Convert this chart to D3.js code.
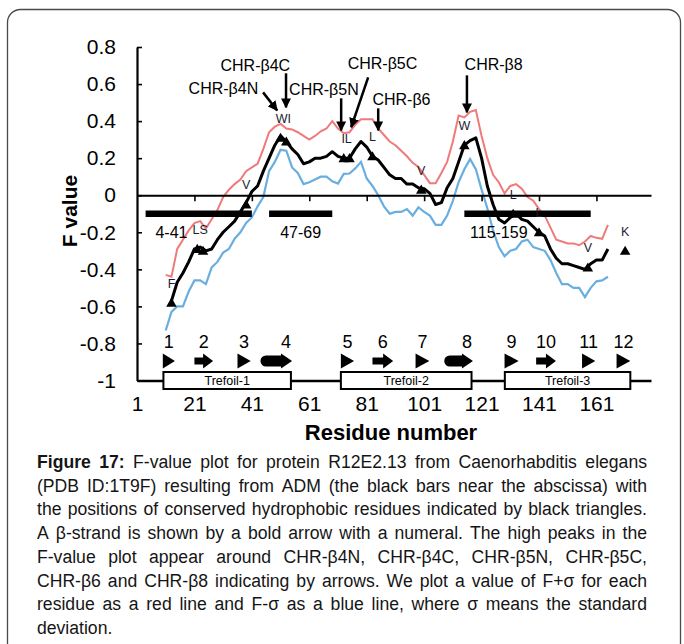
<!DOCTYPE html>
<html>
<head>
<meta charset="utf-8">
<script src="https://d3js.org/d3.v7.min.js"></script>
<style>
body { margin: 0; background: #fff; }
svg { display: block; font-family: "Liberation Sans", Arial, sans-serif; }
</style>
</head>
<body>
<div id="svg_div"><svg></svg></div>
<script>
var residues = [11, 13, 15, 17, 19, 21, 23, 25, 27, 29, 31, 33, 35, 37, 39, 41, 43, 45, 47, 49,
	51, 53, 55, 57, 59, 61, 63, 65, 67, 69, 71, 73, 75, 77, 79, 81, 83, 85, 87, 89,
	91, 93, 95, 97, 99, 101, 103, 105, 107, 109, 111, 113, 115, 117, 119, 121, 123, 125, 127, 129,
	131, 133, 135, 137, 139, 141, 143, 145, 147, 149, 151, 153, 155, 157, 159, 161, 163, 165];

// F + sigma (red)
var fPlus = [-0.43, -0.44, -0.29, -0.24, -0.19, -0.15, -0.14, -0.18, -0.13, -0.08, -0.01, 0.03, 0.06, 0.085, 0.13, 0.15, 0.17, 0.25, 0.34, 0.37,
	0.385, 0.36, 0.355, 0.34, 0.32, 0.30, 0.32, 0.345, 0.36, 0.40, 0.36, 0.335, 0.34, 0.38, 0.41, 0.41, 0.41, 0.36, 0.325, 0.29,
	0.27, 0.24, 0.21, 0.175, 0.153, 0.11, 0.065, 0.065, 0.12, 0.18, 0.29, 0.43, 0.42, 0.45, 0.46, 0.32, 0.20, 0.11, 0.07, 0.01,
	0.05, 0.06, 0.035, -0.01, -0.03, -0.075, -0.11, -0.175, -0.24, -0.25, -0.26, -0.26, -0.27, -0.25, -0.22, -0.23, -0.235, -0.16];

// F value (black)
var fValue = [null, -0.57, -0.47, -0.42, -0.36, -0.29, -0.28, -0.30, -0.29, -0.24, -0.20, -0.17, -0.14, -0.09, -0.04, 0.02, 0.05, 0.13, 0.20, 0.27,
	0.32, 0.29, 0.25, 0.22, 0.17, 0.18, 0.20, 0.20, 0.21, 0.235, 0.21, 0.20, 0.20, 0.25, 0.29, 0.26, 0.21, 0.19, 0.15, 0.11,
	0.09, 0.09, 0.06, 0.06, 0.04, 0.035, 0.01, -0.05, -0.04, 0.04, 0.09, 0.18, 0.27, 0.295, 0.31, 0.20, 0.05, -0.05, -0.13, -0.15,
	-0.12, -0.10, -0.13, -0.14, -0.17, -0.20, -0.22, -0.29, -0.34, -0.37, -0.37, -0.38, -0.39, -0.40, -0.37, -0.35, -0.35, -0.29];

// F - sigma (blue)
var fMinus = [-0.73, -0.63, -0.60, -0.60, -0.52, -0.46, -0.46, -0.48, -0.39, -0.36, -0.31, -0.29, -0.235, -0.20, -0.15, -0.12, -0.06, -0.01, 0.13, 0.18,
	0.245, 0.24, 0.15, 0.12, 0.06, 0.07, 0.085, 0.10, 0.10, 0.075, 0.063, 0.115, 0.117, 0.145, 0.18, 0.09, 0.05, 0.0, -0.06, -0.10,
	-0.09, -0.09, -0.075, -0.11, -0.065, -0.09, -0.11, -0.16, -0.16, -0.11, -0.03, 0.07, 0.14, 0.195, 0.14, 0.03, -0.07, -0.19, -0.28, -0.33,
	-0.30, -0.29, -0.25, -0.24, -0.28, -0.29, -0.30, -0.35, -0.42, -0.48, -0.48, -0.50, -0.50, -0.55, -0.50, -0.465, -0.46, -0.44];

// conserved hydrophobic residues (black triangles)
var hydroRes = [13, 22, 24, 39, 51, 53, 73, 75, 83, 100, 115, 132, 141, 158, 171];
var hydroF = [-0.58, -0.29, -0.30, -0.05, 0.31, 0.29, 0.20, 0.20, 0.21, 0.03, 0.27, -0.10, -0.20, -0.39, -0.30];

// residue letters written above the triangles (neighbouring pairs share one label)
var aaLabel = ["F", "LS", "V", "WI", "IL", "L", "V", "W", "L", "L", "V", "K"];
var aaRes = [13, 23, 39, 52, 74, 83, 100, 115, 132, 141, 158, 171];
var aaF = [-0.58, -0.29, -0.05, 0.31, 0.20, 0.21, 0.03, 0.27, -0.10, -0.20, -0.39, -0.30];

// ADM regions (black bars)
var admStart = [4, 47, 115];
var admEnd = [41, 69, 159];
var admLabelRes = [13, 58, 127];
var admF = -0.1;

// beta strands
var strandNo = ["1", "2", "3", "4", "5", "6", "7", "8", "9", "10", "11", "12"];
var strandStart = [10, 21, 36, 44, 72, 83, 98, 108, 129, 140, 156, 168];
var strandEnd = [14.2, 27.5, 40.6, 55, 76.6, 90.2, 102.8, 118, 133.9, 146.9, 160.6, 172.8];
var strandKind = ["tri", "arrow", "tri", "long", "tri", "arrow", "tri", "long", "tri", "arrow", "tri", "tri"];

// trefoil domains
var trefoilName = ["Trefoil-1", "Trefoil-2", "Trefoil-3"];
var trefoilStart = [10.2, 72, 129.1];
var trefoilEnd = [54.6, 117.5, 172.8];

// CHR peak annotations
var chrName = ["CHR-β4N", "CHR-β4C", "CHR-β5N", "CHR-β5C", "CHR-β6", "CHR-β8"];
var chrTextRes = [31.1, 42.2, 66.1, 86.5, 93.1, 125.2];
var chrTextF = [0.544, 0.668, 0.539, 0.679, 0.485, 0.674];
var chrTailRes = [44.9, 52.9, 72.1, 81.5, 85, 115.9];
var chrTailF = [0.555, 0.658, 0.523, 0.636, 0.469, 0.647];
var chrTipRes = [49.8, 52.9, 72.1, 75.6, 85, 115.9];
var chrTipF = [0.458, 0.474, 0.35, 0.367, 0.35, 0.447];

var yTicks = [-1, -0.8, -0.6, -0.4, -0.2, 0, 0.2, 0.4, 0.6, 0.8];
var xTicks = [1, 21, 41, 61, 81, 101, 121, 141, 161];

var captionLines = [
	"Figure 17: F-value plot for protein R12E2.13 from Caenorhabditis elegans",
	"(PDB ID:1T9F) resulting from ADM (the black bars near the abscissa) with",
	"the positions of conserved hydrophobic residues indicated by black triangles.",
	"A β-strand is shown by a bold arrow with a numeral. The high peaks in the",
	"F-value plot appear around CHR-β4N, CHR-β4C, CHR-β5N, CHR-β5C,",
	"CHR-β6 and CHR-β8 indicating by arrows. We plot a value of F+σ for each",
	"residue as a red line and F-σ as a blue line, where σ means the standard",
	"deviation."
];

var w = 684, h = 644;
var svg = d3.select("#svg_div").select("svg")
			.attr("width", w)
			.attr("height", h);

var xScale = d3.scaleLinear().domain([1, 180]).range([137, 651]);
var yScale = d3.scaleLinear().domain([-1, 0.8]).range([380.5, 47]);

// panel border
svg.append("rect")
   .attr("x", 7.5).attr("y", 9.5)
   .attr("width", 673).attr("height", 720)
   .attr("rx", 13)
   .attr("fill", "none")
   .attr("stroke", "#4a4a4a")
   .attr("stroke-width", 1.3);

// curves
function curve(vals) {
	return d3.line()
			 .defined(function(d, i) { return vals[i] !== null; })
			 .x(function(d, i) { return xScale(residues[i]); })
			 .y(function(d, i) { return yScale(vals[i]); })(residues);
}
svg.append("path").attr("d", curve(fPlus))
   .attr("fill", "none").attr("stroke", "#f07a7a").attr("stroke-width", 2);
svg.append("path").attr("d", curve(fMinus))
   .attr("fill", "none").attr("stroke", "#6aaee0").attr("stroke-width", 2.2);
svg.append("path").attr("d", curve(fValue))
   .attr("fill", "none").attr("stroke", "#000").attr("stroke-width", 3).attr("stroke-linejoin", "round");

// y axis
var yAxis = d3.axisLeft(yScale)
			  .tickValues(yTicks)
			  .tickSize(-5)
			  .tickSizeOuter(0)
			  .tickPadding(21)
			  .tickFormat(function(d) { return d === 0 ? "0" : String(+d.toFixed(1)); });
var gy = svg.append("g")
			.attr("transform", "translate(" + xScale(1) + ",0)")
			.call(yAxis);
gy.select(".domain").attr("stroke-width", 2.2);
gy.selectAll(".tick line").attr("stroke-width", 1.6);
gy.selectAll("text").attr("font-size", "21px").attr("font-family", "Liberation Sans, Arial, sans-serif").attr("fill", "#000");

// zero line with ticks
var xZero = d3.axisBottom(xScale)
			  .tickValues(xTicks.slice(1))
			  .tickSize(6)
			  .tickSizeOuter(0)
			  .tickFormat("");
var gz = svg.append("g")
			.attr("transform", "translate(0," + yScale(0) + ")")
			.call(xZero);
gz.select(".domain").attr("stroke-width", 2);
gz.selectAll(".tick line").attr("stroke-width", 1.6);

// bottom line with residue labels
var xAxis = d3.axisBottom(xScale)
			  .tickValues(xTicks)
			  .tickSize(0)
			  .tickSizeOuter(0)
			  .tickPadding(16);
var gx = svg.append("g")
			.attr("transform", "translate(0," + yScale(-1) + ")")
			.call(xAxis);
gx.select(".domain").attr("stroke-width", 2.6);
gx.selectAll("text").attr("font-size", "21px").attr("font-family", "Liberation Sans, Arial, sans-serif").attr("fill", "#000");

// axis titles
svg.append("text")
   .attr("transform", "translate(77,211) rotate(-90)")
   .attr("text-anchor", "middle")
   .attr("font-size", "21px")
   .attr("font-weight", "bold")
   .text("F value");
svg.append("text")
   .attr("x", 391).attr("y", 440)
   .attr("text-anchor", "middle")
   .attr("font-size", "22px")
   .attr("font-weight", "bold")
   .text("Residue number");

// ADM bars
svg.selectAll(".adm")
   .data(admStart)
   .enter()
   .append("line")
   .attr("class", "adm")
   .attr("x1", function(d) { return xScale(d); })
   .attr("x2", function(d, i) { return xScale(admEnd[i]); })
   .attr("y1", yScale(admF)).attr("y2", yScale(admF))
   .attr("stroke", "#000")
   .attr("stroke-width", 6.5);
svg.selectAll(".admLabel")
   .data(admStart)
   .enter()
   .append("text")
   .attr("class", "admLabel")
   .attr("x", function(d, i) { return xScale(admLabelRes[i]); })
   .attr("y", yScale(admF) + 24)
   .attr("text-anchor", "middle")
   .attr("font-size", "16px")
   .text(function(d, i) { return admStart[i] + "-" + admEnd[i]; });

// hydrophobic residue triangles
svg.selectAll(".hydro")
   .data(hydroRes)
   .enter()
   .append("path")
   .attr("class", "hydro")
   .attr("d", d3.symbol().type(d3.symbolTriangle).size(48))
   .attr("transform", function(d, i) {
		return "translate(" + xScale(d) + "," + (yScale(hydroF[i]) + 1) + ")";
   })
   .attr("fill", "#000");
svg.selectAll(".aa")
   .data(aaLabel)
   .enter()
   .append("text")
   .attr("class", "aa")
   .attr("x", function(d, i) { return xScale(aaRes[i]); })
   .attr("y", function(d, i) { return yScale(aaF[i]) - 15; })
   .attr("text-anchor", "middle")
   .attr("font-size", "12.5px")
   .attr("fill", "#1c1c30")
   .text(function(d) { return d; });

// CHR arrows
var defs = svg.append("defs");
defs.append("marker")
	.attr("id", "head")
	.attr("viewBox", "0 0 10 10")
	.attr("refX", 9).attr("refY", 5)
	.attr("markerWidth", 4).attr("markerHeight", 4)
	.attr("markerUnits", "strokeWidth")
	.attr("orient", "auto")
	.append("path")
	.attr("d", "M0,0L10,5L0,10Z")
	.attr("fill", "#000");
svg.selectAll(".chrArrow")
   .data(chrName)
   .enter()
   .append("line")
   .attr("class", "chrArrow")
   .attr("x1", function(d, i) { return xScale(chrTailRes[i]); })
   .attr("y1", function(d, i) { return yScale(chrTailF[i]); })
   .attr("x2", function(d, i) { return xScale(chrTipRes[i]); })
   .attr("y2", function(d, i) { return yScale(chrTipF[i]); })
   .attr("stroke", "#000")
   .attr("stroke-width", 2.5)
   .attr("marker-end", "url(#head)");
svg.selectAll(".chrText")
   .data(chrName)
   .enter()
   .append("text")
   .attr("class", "chrText")
   .attr("x", function(d, i) { return xScale(chrTextRes[i]); })
   .attr("y", function(d, i) { return yScale(chrTextF[i]); })
   .attr("text-anchor", "middle")
   .attr("font-size", "16px")
   .text(function(d) { return d; });

// strands
var strandY = 361;
function strandPath(i) {
	var x0 = xScale(strandStart[i]), x1 = xScale(strandEnd[i]);
	var c = strandY;
	if (strandKind[i] === "tri")
		return "M" + x0 + "," + (c - 7.5) + "L" + x1 + "," + c + "L" + x0 + "," + (c + 7.5) + "Z";
	if (strandKind[i] === "arrow") {
		var hx = x1 - 10;
		return "M" + x0 + "," + (c - 3.5) + "L" + hx + "," + (c - 3.5) + "L" + hx + "," + (c - 7.5) +
			   "L" + x1 + "," + c + "L" + hx + "," + (c + 7.5) + "L" + hx + "," + (c + 3.5) +
			   "L" + x0 + "," + (c + 3.5) + "Z";
	}
	var hx2 = x1 - 11;
	return "M" + (x0 + 5.5) + "," + (c - 5.5) + "L" + hx2 + "," + (c - 5.5) + "L" + hx2 + "," + (c - 7.5) +
		   "L" + x1 + "," + c + "L" + hx2 + "," + (c + 7.5) + "L" + hx2 + "," + (c + 5.5) +
		   "L" + (x0 + 5.5) + "," + (c + 5.5) + "A5.5,5.5 0 0 1 " + (x0 + 5.5) + "," + (c - 5.5) + "Z";
}
svg.selectAll(".strand")
   .data(strandNo)
   .enter()
   .append("path")
   .attr("class", "strand")
   .attr("d", function(d, i) { return strandPath(i); })
   .attr("fill", "#000");
svg.selectAll(".strandNo")
   .data(strandNo)
   .enter()
   .append("text")
   .attr("class", "strandNo")
   .attr("x", function(d, i) {
		if (strandKind[i] === "long") return xScale(strandEnd[i]) - 6;
		return (xScale(strandStart[i]) + xScale(strandEnd[i])) / 2;
   })
   .attr("y", 348)
   .attr("text-anchor", "middle")
   .attr("font-size", "18px")
   .text(function(d) { return d; });

// trefoil boxes
svg.selectAll(".trefoil")
   .data(trefoilName)
   .enter()
   .append("rect")
   .attr("class", "trefoil")
   .attr("x", function(d, i) { return xScale(trefoilStart[i]); })
   .attr("width", function(d, i) { return xScale(trefoilEnd[i]) - xScale(trefoilStart[i]); })
   .attr("y", 372).attr("height", 17)
   .attr("fill", "#fff")
   .attr("stroke", "#000")
   .attr("stroke-width", 2);
svg.selectAll(".trefoilText")
   .data(trefoilName)
   .enter()
   .append("text")
   .attr("class", "trefoilText")
   .attr("x", function(d, i) { return (xScale(trefoilStart[i]) + xScale(trefoilEnd[i])) / 2; })
   .attr("y", 385)
   .attr("text-anchor", "middle")
   .attr("font-size", "12.5px")
   .text(function(d) { return d; });

// caption, justified word by word
var capX0 = 37, capX1 = 647, capY0 = 468, capLH = 23.7;
captionLines.forEach(function(line, li) {
	var words = line.split(" ");
	var g = svg.append("g");
	var nodes = words.map(function(word, wi) {
		var t = g.append("text")
				 .attr("y", capY0 + li * capLH)
				 .attr("font-size", "17.6px")
				 .attr("fill", "#151515")
				 .text(word);
		if (li === 0 && wi < 2) t.attr("font-weight", "bold");
		return t;
	});
	var widths = nodes.map(function(n) { return n.node().getComputedTextLength(); });
	var total = d3.sum(widths);
	var gap = (li === captionLines.length - 1) ? 4.9 : (capX1 - capX0 - total) / (words.length - 1);
	if (gap < 3.5) {
		// squeeze words slightly when the line is too long
		var k = (capX1 - capX0 - 3.5 * (words.length - 1)) / total;
		widths = widths.map(function(v, i) { nodes[i].attr("textLength", v * k).attr("lengthAdjust", "spacingAndGlyphs"); return v * k; });
		gap = 3.5;
	}
	var x = capX0;
	nodes.forEach(function(n, i) {
		n.attr("x", x);
		x += widths[i] + gap;
	});
});
</script>
</body>
</html>
